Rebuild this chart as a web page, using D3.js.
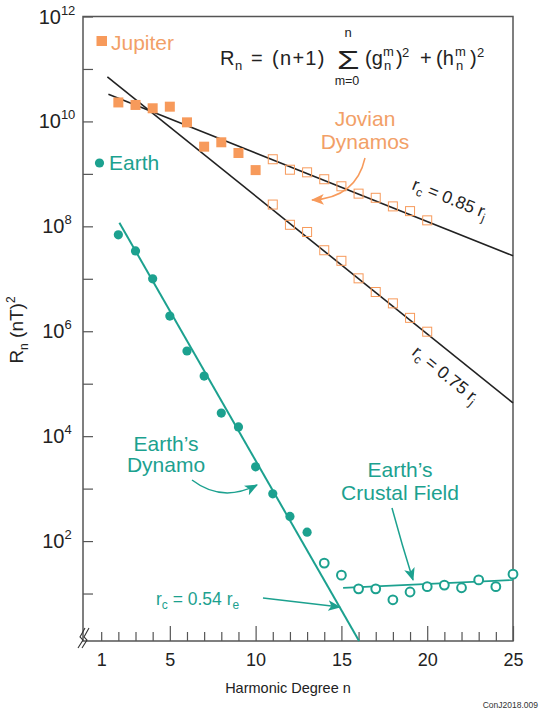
<!DOCTYPE html>
<html>
<head>
<meta charset="UTF-8" />
<script src="https://cdn.jsdelivr.net/npm/d3@7"></script>
<title>Power spectra</title>
<style>
  body { margin: 0; background: #fff; }
  svg text { font-family: "Liberation Sans", Arial, sans-serif; white-space: pre; }
</style>
</head>
<body>
<div id="chart"></div>
<script>
// Jupiter, core field (filled squares)
const jupN = [2, 3, 4, 5, 6, 7, 8, 9, 10];
const jupR = [2.3e10, 2.06e10, 1.78e10, 1.91e10, 9.6e9, 3.3e9, 4.0e9, 2.5e9, 1.18e9];
// Jupiter, open squares along the two fits
const jupOpenN = [11, 12, 13, 14, 15, 16, 17, 18, 19, 20];
const jupUpperR = [1.9e9, 1.2e9, 1.07e9, 7.9e8, 5.8e8, 4.2e8, 3.5e8, 2.4e8, 1.95e8, 1.3e8];
const jupLowerR = [2.6e8, 1.07e8, 7.8e7, 3.5e7, 2.2e7, 1.02e7, 5.6e6, 3.4e6, 1.8e6, 9.8e5];
// Earth, core field (filled) and crustal field (open)
const earthN = [2, 3, 4, 5, 6, 7, 8, 9, 10, 11, 12, 13];
const earthR = [6.9e7, 3.4e7, 1.0e7, 1.95e6, 4.2e5, 1.4e5, 2.75e4, 1.5e4, 2.6e3, 794, 295, 148];
const crustN = [14, 15, 16, 17, 18, 19, 20, 21, 22, 23, 24, 25];
const crustR = [38, 22.4, 12.3, 12.3, 7.6, 10.7, 13.5, 14.5, 12.9, 18.2, 13.5, 23.4];
// fitted lines, [n, R] end points
const fit085 = [[1.42, 3.3e10], [25, 2.75e7]];
const fit075 = [[1.36, 7.1e10], [25, 4.3e4]];
const fitEarth = [[2.06, 1.17e8], [16.03, 1.24]];
const fitCrust = [[15.1, 12.8], [25, 18.1]];
// ticks
const xTicks = d3.range(1, 26);
const xLabels = [1, 5, 10, 15, 20, 25];
const yExp = [1, 2, 3, 4, 5, 6, 7, 8, 9, 10, 11, 12];
const yLabelExp = [2, 4, 6, 8, 10, 12];

const W = 540, H = 713;
const teal = "#1ca18f", orange = "#f79a5b", orangeText = "#f2a067", ink = "#222";

const svg = d3.select("#chart").append("svg").attr("width", W).attr("height", H);
const defs = svg.append("defs");
function marker(id, color) {
    defs.append("marker").attr("id", id)
        .attr("viewBox", "0 0 12 10").attr("refX", 11).attr("refY", 5)
        .attr("markerWidth", 13).attr("markerHeight", 11)
        .attr("markerUnits", "userSpaceOnUse").attr("orient", "auto")
        .append("path").attr("d", "M0,0 L12,5 L0,10 L3,5 Z").attr("fill", color);
}
marker("arO", orange);
marker("arT", teal);

const x = d3.scaleLinear().domain([-0.06, 25]).range([83, 513]);
const y = d3.scaleLog().domain([Math.pow(10, 0.095), 1e12]).range([641, 16.5]);

// frame
svg.append("rect").attr("x", 83).attr("y", 16.5).attr("width", 430).attr("height", 624.5)
    .attr("fill", "none").attr("stroke", "#555").attr("stroke-width", 1.5);

// x axis
const xAxis = d3.axisBottom(x).tickValues(xTicks).tickSizeInner(-9).tickSizeOuter(0).tickPadding(12)
    .tickFormat(d => xLabels.includes(d) ? d : "");
const gx = svg.append("g").attr("transform", "translate(0,641)").call(xAxis);
gx.select(".domain").remove();
gx.selectAll(".tick line").attr("stroke", "#555").attr("stroke-width", 1.2)
    .filter(d => d % 5 === 0).attr("y2", -15);
gx.selectAll(".tick text").attr("font-size", 18).attr("fill", ink)
    .style("font-family", "Liberation Sans, Arial, sans-serif");

// y axis
const yAxis = d3.axisLeft(y).tickValues(yExp.map(e => Math.pow(10, e))).tickSizeInner(-10).tickSizeOuter(0)
    .tickFormat("");
const gy = svg.append("g").attr("transform", "translate(83,0)").call(yAxis);
gy.select(".domain").remove();
gy.selectAll(".tick line").attr("stroke", "#555").attr("stroke-width", 1.2);
yLabelExp.forEach(e => {
    const t = svg.append("text").attr("x", 57).attr("y", y(Math.pow(10, e)) + 7)
        .attr("text-anchor", "middle").attr("fill", ink).attr("font-size", 20);
    t.append("tspan").text("10");
    t.append("tspan").attr("font-size", 13).attr("dy", -9).text(e);
});

// axis break
[0, 4].forEach(o => {
    svg.append("path").attr("d", `M${78 + o},648 L${83 + o},640 L${80 + o},637 L${85 + o},628`)
        .attr("fill", "none").attr("stroke", "#333").attr("stroke-width", 1.1);
});

// axis titles
svg.append("text").attr("x", 288).attr("y", 693).attr("text-anchor", "middle")
    .attr("font-size", 14.5).attr("fill", ink).text("Harmonic Degree n");
const yt = svg.append("text").attr("transform", "translate(23,330) rotate(-90)")
    .attr("text-anchor", "middle").attr("font-size", 19).attr("fill", ink);
yt.append("tspan").text("R");
yt.append("tspan").attr("font-size", 12).attr("dy", 5).text("n");
yt.append("tspan").attr("dy", -5).text(" (nT)");
yt.append("tspan").attr("font-size", 12).attr("dy", -8).text("2");
svg.append("text").attr("x", 538).attr("y", 708).attr("text-anchor", "end")
    .attr("font-size", 8.5).attr("fill", "#333").text("ConJ2018.009");

// fitted lines
const line = d3.line().x(d => x(d[0])).y(d => y(d[1]));
[fit085, fit075].forEach(f => svg.append("path").attr("d", line(f))
    .attr("fill", "none").attr("stroke", ink).attr("stroke-width", 1.6));
svg.append("path").attr("d", line(fitEarth)).attr("fill", "none").attr("stroke", teal).attr("stroke-width", 2);
svg.append("path").attr("d", line(fitCrust)).attr("fill", "none").attr("stroke", teal).attr("stroke-width", 1.6);

// Jupiter marks
svg.selectAll(".jf").data(jupN).enter().append("rect")
    .attr("x", (d, i) => x(d) - 5).attr("y", (d, i) => y(jupR[i]) - 5)
    .attr("width", 10).attr("height", 10).attr("fill", orange);
[jupUpperR, jupLowerR].forEach(arr => {
    svg.selectAll(null).data(jupOpenN).enter().append("rect")
        .attr("x", (d, i) => x(d) - 4.5).attr("y", (d, i) => y(arr[i]) - 4.5)
        .attr("width", 9).attr("height", 9).attr("fill", "none")
        .attr("stroke", orange).attr("stroke-width", 1);
});

// Earth marks
svg.selectAll(".ef").data(earthN).enter().append("circle")
    .attr("cx", d => x(d)).attr("cy", (d, i) => y(earthR[i])).attr("r", 4.6).attr("fill", teal);
svg.selectAll(".eo").data(crustN).enter().append("circle")
    .attr("cx", d => x(d)).attr("cy", (d, i) => y(crustR[i])).attr("r", 4.4)
    .attr("fill", "#fff").attr("stroke", teal).attr("stroke-width", 2);

// legend
svg.append("rect").attr("x", 96.5).attr("y", 36).attr("width", 10.5).attr("height", 10).attr("fill", orange);
svg.append("text").attr("x", 111).attr("y", 49.5).attr("font-size", 21).attr("fill", orangeText).text("Jupiter");
svg.append("circle").attr("cx", 99.5).attr("cy", 163).attr("r", 4.6).attr("fill", teal);
svg.append("text").attr("x", 109).attr("y", 170).attr("font-size", 21).attr("fill", teal).text("Earth");

// formula
const fg = svg.append("g").attr("fill", ink);
const base = 65;
function put(px, txt, size, dy, anchor) {
    return fg.append("text").attr("x", px).attr("y", base + (dy || 0)).attr("font-size", size)
        .attr("text-anchor", anchor || "start").text(txt);
}
put(220, "R", 20);
put(235, "n", 13, 5);
put(251, "=", 20);
put(272, "(n+1)", 20).attr("letter-spacing", 1.3);
fg.append("text").attr("transform", `translate(337,${base + 4}) scale(1.45,1)`)
    .attr("font-size", 25).text("\u03a3");
put(348, "n", 13, -28, "middle");
put(347, "m=0", 12.5, 20, "middle");
put(365, "(g", 20);
put(383, "m", 13, -9);
put(384, "n", 13, 5);
put(396, ")", 20);
put(402, "2", 13, -8);
put(420, "+", 20);
put(436, "(h", 20);
put(455, "m", 13, -9);
put(456, "n", 13, 5);
put(470, ")", 20);
put(477, "2", 13, -8);

// annotations
function twoLines(cxp, y1, y2, a, b, color) {
    svg.append("text").attr("x", cxp).attr("y", y1).attr("text-anchor", "middle")
        .attr("font-size", 21).attr("fill", color).text(a);
    svg.append("text").attr("x", cxp).attr("y", y2).attr("text-anchor", "middle")
        .attr("font-size", 21).attr("fill", color).text(b);
}
twoLines(365, 126, 149, "Jovian", "Dynamos", orangeText);
svg.append("path").attr("d", "M365,158 Q356,198 312,200").attr("fill", "none")
    .attr("stroke", orange).attr("stroke-width", 1.5).attr("marker-end", "url(#arO)");

twoLines(166, 451, 472, "Earth\u2019s", "Dynamo", teal);
svg.append("path").attr("d", "M192,480 Q222,503 257,485").attr("fill", "none")
    .attr("stroke", teal).attr("stroke-width", 1.5).attr("marker-end", "url(#arT)");

twoLines(400, 477, 500, "Earth\u2019s", "Crustal Field", teal);
svg.append("path").attr("d", "M392,508 Q402,545 413,580").attr("fill", "none")
    .attr("stroke", teal).attr("stroke-width", 1.5).attr("marker-end", "url(#arT)");

function rLabel(px, py, ang, val, sub, color) {
    const t = svg.append("text").attr("transform", `translate(${px},${py}) rotate(${ang})`)
        .attr("font-size", 17.5).attr("fill", color);
    t.append("tspan").text("r");
    t.append("tspan").attr("font-size", 12).attr("dy", 4).text("c");
    t.append("tspan").attr("dy", -4).text(" = " + val + " r");
    t.append("tspan").attr("font-size", 12).attr("dy", 4).text(sub);
}
rLabel(411, 189, 21.9, "0.85", "j", ink);
rLabel(411, 354, 38.9, "0.75", "j", ink);
rLabel(156, 605, 0, "0.54", "e", teal);
svg.append("path").attr("d", "M263,598 L340,607").attr("fill", "none")
    .attr("stroke", teal).attr("stroke-width", 1.5).attr("marker-end", "url(#arT)");
</script>
</body>
</html>
